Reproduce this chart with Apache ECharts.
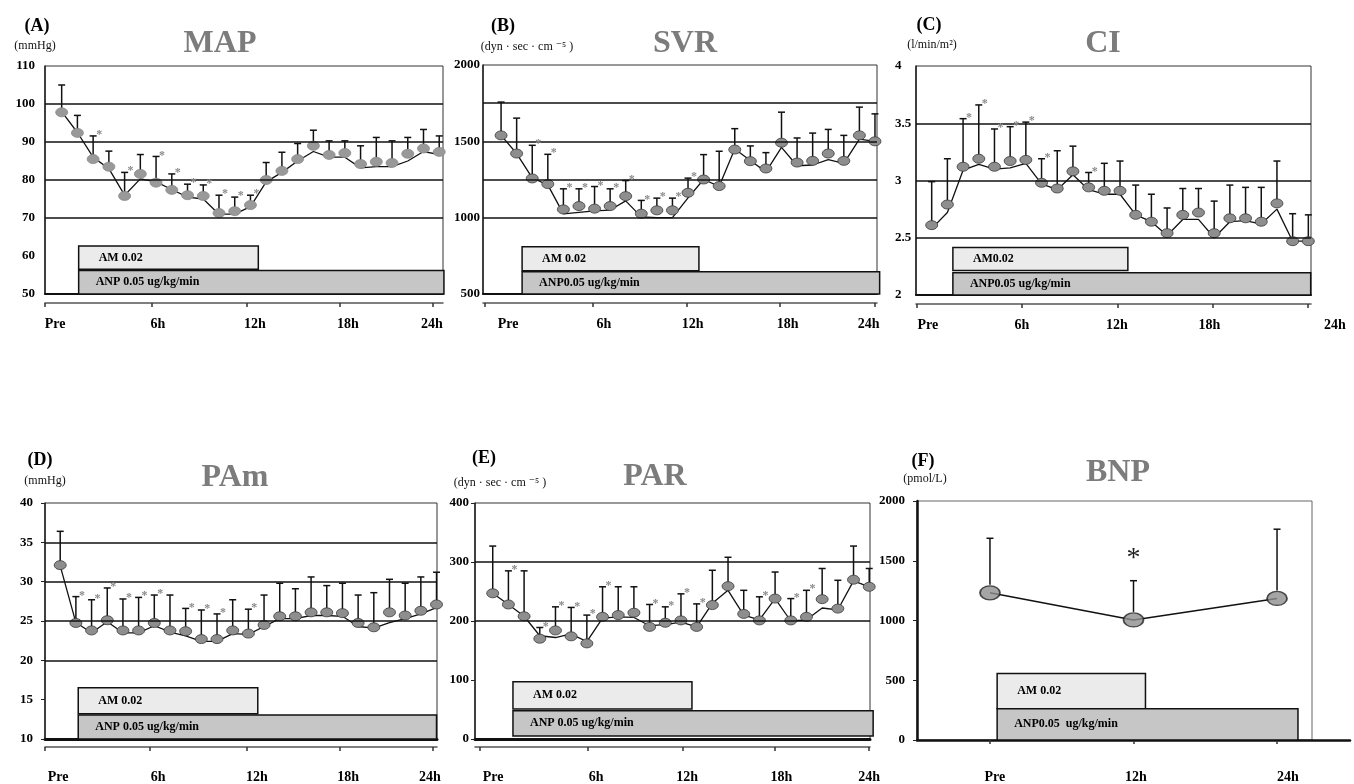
<!DOCTYPE html>
<html>
<head>
<meta charset="utf-8">
<title>AM + ANP hemodynamics</title>
<script src="https://cdn.jsdelivr.net/npm/echarts@6/dist/echarts.min.js"></script>
<style>
html, body { margin: 0; padding: 0; background: #fff; }
#chart { width: 1354px; height: 784px; }
</style>
</head>
<body>
<div id="chart"></div>
<script>
// hourly time points, Pre .. 24h
var hours = [0, 1, 2, 3, 4, 5, 6, 7, 8, 9, 10, 11, 12, 13, 14, 15, 16, 17, 18, 19, 20, 21, 22, 23, 24];
var timeLabels = ['Pre', '6h', '12h', '18h', '24h'];

// (A) MAP
var mapMean = [97.8, 92.4, 85.5, 83.5, 75.8, 81.6, 79.3, 77.4, 76.0, 75.8, 71.3, 71.8, 73.4, 80.0, 82.4, 85.5, 89.0, 86.6, 87.1, 84.2, 84.8, 84.5, 86.9, 88.3, 87.4];
var mapLine = [98, 92.5, 86, 83, 76, 80.3, 79.5, 77.5, 75.5, 75, 71, 71, 73, 79.5, 82, 85, 87.5, 86, 86, 83.2, 83.5, 83.5, 85, 87.5, 86.7];
var mapTop = [105, 97, 91.6, 87.6, 82, 86.7, 86.2, 81.6, 78.9, 78.7, 76, 75.5, 76, 84.6, 87.3, 89.6, 93.1, 90.3, 90.3, 89, 91.2, 90.3, 91.2, 93.3, 91.6];
var mapStars = [2, 4, 6, 7, 8, 9, 10, 11, 12];
var mapGrid = [70, 80, 90, 100];

// (B) SVR
var svrMean = [1539, 1420, 1257, 1220, 1054, 1076, 1059, 1076, 1141, 1026, 1048, 1048, 1163, 1250, 1207, 1446, 1370, 1322, 1491, 1361, 1372, 1420, 1372, 1539, 1500];
var svrLine = [1539, 1420, 1260, 1215, 1025, 1035, 1045, 1050, 1110, 1005, 1000, 1000, 1130, 1250, 1205, 1450, 1375, 1300, 1460, 1340, 1345, 1380, 1355, 1515, 1500];
var svrTop = [1757, 1652, 1474, 1415, 1189, 1189, 1204, 1189, 1243, 1113, 1128, 1128, 1259, 1413, 1435, 1583, 1470, 1426, 1691, 1522, 1554, 1578, 1539, 1724, 1680];
var svrStars = [2, 3, 4, 5, 6, 7, 8, 9, 10, 11, 12];
var svrGrid = [1000, 1250, 1500, 1750];

// (C) CI
var ciMean = [2.61, 2.79, 3.12, 3.19, 3.12, 3.17, 3.18, 2.98, 2.93, 3.08, 2.94, 2.91, 2.91, 2.70, 2.64, 2.54, 2.70, 2.72, 2.54, 2.67, 2.67, 2.64, 2.80, 2.47, 2.47];
var ciLine = [2.58, 2.72, 3.09, 3.14, 3.10, 3.11, 3.15, 2.97, 2.92, 3.05, 2.92, 2.88, 2.88, 2.70, 2.64, 2.52, 2.66, 2.66, 2.50, 2.64, 2.65, 2.62, 2.75, 2.47, 2.47];
var ciTop = [2.99, 3.19, 3.54, 3.66, 3.45, 3.47, 3.51, 3.19, 3.26, 3.30, 3.07, 3.15, 3.17, 2.96, 2.88, 2.76, 2.93, 2.93, 2.82, 2.96, 2.94, 2.94, 3.17, 2.71, 2.70];
var ciStars = [2, 3, 4, 5, 6, 7, 10];
var ciGrid = [2.5, 3, 3.5];

// (D) PAm
var pamMean = [32.1, 24.75, 23.8, 25.1, 23.8, 23.8, 24.75, 23.8, 23.7, 22.7, 22.7, 23.8, 23.4, 24.5, 25.6, 25.6, 26.1, 26.1, 26.0, 24.75, 24.2, 26.1, 25.7, 26.3, 27.1];
var pamLine = [32, 24.8, 23.5, 24.9, 23.5, 23.5, 24.4, 23.6, 23.1, 22.4, 22.4, 23.4, 23.3, 24.3, 25.3, 25.3, 25.7, 25.7, 25.6, 24.3, 24.1, 24.8, 25.3, 25.9, 26.7];
var pamTop = [36.4, 28.1, 27.7, 29.2, 27.8, 28.0, 28.3, 28.3, 26.6, 26.4, 25.9, 27.7, 26.5, 28.3, 29.8, 29.1, 30.6, 29.5, 29.8, 28.3, 28.6, 30.3, 29.8, 30.6, 31.2];
var pamStars = [1, 2, 3, 4, 5, 6, 8, 9, 10, 12];
var pamGrid = [20, 25, 30, 35];

// (E) PAR
var parMean = [247, 228, 208, 170, 184, 174, 162, 207, 210, 214, 190, 197, 201, 190, 227, 259, 212, 201, 238, 201, 207, 237, 221, 270, 258];
var parLine = [247, 228, 208, 175, 172, 178, 165, 205, 207, 206, 192, 194, 198, 190, 230, 252, 210, 202, 238, 200, 202, 222, 219, 268, 258];
var parTop = [327, 285, 285, 189, 224, 223, 210, 258, 258, 258, 228, 224, 246, 229, 286, 308, 252, 241, 283, 238, 252, 289, 269, 327, 289];
var parStars = [1, 3, 4, 5, 6, 7, 10, 11, 12, 13, 17, 19, 20];
var parGrid = [200, 300];

// (F) BNP
var bnpHours = [0, 12, 24];
var bnpLabels = ['Pre', '12h', '24h'];
var bnpMean = [1232, 1005, 1185];
var bnpTop = [1688, 1333, 1764];
var bnpStars = [1];

var FONT = '"Liberation Serif", "DejaVu Serif", serif';

// layout of the five hourly panels
var panels = [
	{ letter: '(A)', unit: '(mmHg)', title: 'MAP', mean: mapMean, line: mapLine, top: mapTop, stars: mapStars, gridVals: mapGrid,
		rect: [45, 66, 398, 228], xr: [-1.06, 24.24], yr: [50, 110, 10], yMargin: 10, yAlign: 'right', yTicks: false, base: 2,
		ticks: [-1.05, 5.74, 11.78, 17.7, 23.6], labelsAt: [-0.42, 6.12, 12.29, 18.2, 23.54], lastShift: 0, offset: 9, labelMargin: 14,
		am: [1.08, 12.5, 56.5, 62.6], anp: [1.08, 24.3, 50, 56.2], amText: 'AM 0.02', anpText: 'ANP 0.05 ug/kg/min',
		dot: ['#999999', '#8a8a8a'],
		letterXY: [37, 26], unitXY: [35, 46], titleXY: [220, 44] },
	{ letter: '(B)', unit: '(dyn · sec · cm ⁻⁵ )', title: 'SVR', mean: svrMean, line: svrLine, top: svrTop, stars: svrStars, gridVals: svrGrid,
		rect: [483, 65, 394, 229], xr: [-1.16, 24.13], yr: [500, 2000, 500], yMargin: 3, yAlign: 'right', yTicks: false, base: 2,
		ticks: [-1.03, 5.9, 11.9, 17.9, 24.0], labelsAt: [0.45, 6.6, 12.3, 18.4, 23.6], lastShift: 0, offset: 9, labelMargin: 14,
		am: [1.35, 12.7, 652, 809], anp: [1.35, 24.3, 500, 645], amText: 'AM 0.02', anpText: 'ANP0.05 ug/kg/min',
		dot: ['#8e8e8e', '#3a3a3a'],
		letterXY: [503, 26], unitXY: [527, 47], titleXY: [685, 44] },
	{ letter: '(C)', unit: '(l/min/m²)', title: 'CI', mean: ciMean, line: ciLine, top: ciTop, stars: ciStars, gridVals: ciGrid,
		rect: [916, 66, 395, 229], xr: [-1.0, 24.17], yr: [2, 4, 0.5], yMargin: 21, yAlign: 'left', yTicks: false, base: 2,
		ticks: [-0.94, 5.75, 11.87, 17.93, 23.99], labelsAt: [-0.24, 5.75, 11.8, 17.7, 24.1], lastShift: 50, offset: 9, labelMargin: 14,
		am: [1.35, 12.5, 2.215, 2.415], anp: [1.35, 24.15, 2.0, 2.195], amText: 'AM0.02', anpText: 'ANP0.05 ug/kg/min',
		dot: ['#8e8e8e', '#3a3a3a'],
		letterXY: [929, 25], unitXY: [932, 45], titleXY: [1103, 44] },
	{ letter: '(D)', unit: '(mmHg)', title: 'PAm', mean: pamMean, line: pamLine, top: pamTop, stars: pamStars, gridVals: pamGrid,
		rect: [45, 503, 392, 236], xr: [-0.97, 24.03], yr: [10, 40, 5], yMargin: 12, yAlign: 'right', yTicks: true, base: 3,
		ticks: [-0.96, 5.74, 11.92, 17.85, 23.77], labelsAt: [-0.13, 6.25, 12.55, 18.36, 23.58], lastShift: 0, offset: 8, labelMargin: 23,
		am: [1.15, 12.6, 13.2, 16.5], anp: [1.15, 24.0, 10, 13.05], amText: 'AM 0.02', anpText: 'ANP 0.05 ug/kg/min',
		dot: ['#8e8e8e', '#3a3a3a'],
		letterXY: [40, 460], unitXY: [45, 481], titleXY: [235, 478] },
	{ letter: '(E)', unit: '(dyn · sec · cm ⁻⁵ )', title: 'PAR', mean: parMean, line: parLine, top: parTop, stars: parStars, gridVals: parGrid,
		rect: [475, 503, 395, 236], xr: [-1.13, 24.05], yr: [0, 400, 100], yMargin: 6, yAlign: 'right', yTicks: true, base: 3,
		ticks: [-0.81, 6.03, 12.1, 18.0, 24.0], labelsAt: [0.02, 6.6, 12.4, 18.4, 24.0], lastShift: 0, offset: 8, labelMargin: 23,
		am: [1.29, 12.7, 51, 97], anp: [1.29, 24.25, 5, 48], amText: 'AM 0.02', anpText: 'ANP 0.05 ug/kg/min',
		dot: ['#8e8e8e', '#3a3a3a'],
		letterXY: [484, 458], unitXY: [500, 483], titleXY: [655, 477] }
];

function nearestText(v, at, texts) {
	var best = 0;
	for(var i = 1; i < at.length; i++) {
		if(Math.abs(at[i] - v) < Math.abs(at[best] - v)) best = i;
	}
	return texts[best];
}

function plainNum(v) {
	return String(v);
}

//治疗区间框 (AM / ANP)
function boxSeries(p, xi, yi) {
	var boxes = [p.am, p.anp];
	var texts = [p.amText, p.anpText];
	var fills = ['#ebebeb', '#c6c6c6'];
	return {
		type: 'custom', xAxisIndex: xi, yAxisIndex: yi, z: 1, silent: true,
		encode: { x: [0, 1], y: [2, 3] },
		data: boxes,
		renderItem: function(params, api) {
			var b = boxes[params.dataIndex];
			var tl = api.coord([b[0], b[3]]);
			var br = api.coord([b[1], b[2]]);
			return {
				type: 'group',
				children: [{
					type: 'rect',
					shape: { x: tl[0], y: tl[1], width: br[0] - tl[0], height: br[1] - tl[1] },
					style: { fill: fills[params.dataIndex], stroke: '#111', lineWidth: 1.5 }
				}, {
					type: 'text',
					x: tl[0] + (params.dataIndex ? 17 : 20),
					y: (tl[1] + br[1]) / 2,
					style: {
						text: texts[params.dataIndex], font: 'bold 12px ' + FONT, fill: '#000',
						textVerticalAlign: 'middle', verticalAlign: 'middle'
					}
				}]
			};
		}
	};
}

// 误差线: 从点的上沿画到 mean+SD
function errorSeries(xs, mean, top, xi, yi, gap) {
	return {
		type: 'custom', xAxisIndex: xi, yAxisIndex: yi, z: 3, silent: true,
		encode: { x: 0, y: [1, 2] },
		data: mean.map(function(m, i) { return [xs[i], m, top[i]]; }),
		renderItem: function(params, api) {
			var p0 = api.coord([api.value(0), api.value(1)]);
			var p1 = api.coord([api.value(0), api.value(2)]);
			var st = { stroke: '#111', lineWidth: 1.5 };
			return {
				type: 'group',
				children: [
					{ type: 'line', shape: { x1: p0[0], y1: p0[1] - gap, x2: p1[0], y2: p1[1] }, style: st },
					{ type: 'line', shape: { x1: p1[0] - 3.5, y1: p1[1], x2: p1[0] + 3.5, y2: p1[1] }, style: st }
				]
			};
		}
	};
}

function starSeries(xs, top, stars, xi, yi, big) {
	return {
		type: 'custom', xAxisIndex: xi, yAxisIndex: yi, z: 5, silent: true,
		encode: { x: 0, y: 1 },
		data: stars.map(function(i) { return [xs[i], top[i]]; }),
		renderItem: function(params, api) {
			var c = api.coord([api.value(0), api.value(1)]);
			return {
				type: 'text',
				x: big ? c[0] : c[0] + 6,
				y: big ? c[1] - 22 : c[1] - 1,
				style: {
					text: '*',
					font: big ? '28px ' + FONT : 'bold 12px ' + FONT,
					fill: big ? '#222' : '#8a8a8a',
					textAlign: 'center', align: 'center',
					textVerticalAlign: 'middle', verticalAlign: 'middle'
				}
			};
		}
	};
}

var grids = [], xAxes = [], yAxes = [], series = [], texts = [];

function addText(str, xy, font, color) {
	texts.push({
		type: 'text', x: xy[0], y: xy[1], silent: true,
		style: {
			text: str, font: font, fill: color,
			textAlign: 'center', align: 'center', textVerticalAlign: 'middle', verticalAlign: 'middle'
		}
	});
}

panels.forEach(function(p, k) {
	grids.push({
		left: p.rect[0], top: p.rect[1], width: p.rect[2], height: p.rect[3],
		show: true, borderColor: '#333', borderWidth: 1, containLabel: false
	});
	// plot x axis (hidden scale, just the baseline)
	xAxes.push({
		gridIndex: k, type: 'value', position: 'bottom', min: p.xr[0], max: p.xr[1],
		axisLine: { show: true, onZero: false, lineStyle: { color: '#111', width: p.base } },
		axisTick: { show: false }, axisLabel: { show: false }, splitLine: { show: false }
	});
	// separate time axis below the plot
	xAxes.push({
		gridIndex: k, type: 'value', position: 'bottom', offset: p.offset, min: p.xr[0], max: p.xr[1],
		axisLine: { show: true, onZero: false, lineStyle: { color: '#555', width: 1.5 } },
		axisTick: { show: true, customValues: p.ticks, length: 4, lineStyle: { color: '#333', width: 1.5 } },
		axisLabel: {
			show: true, customValues: p.labelsAt, margin: p.labelMargin,
			fontFamily: FONT, fontWeight: 'bold', fontSize: 14, color: '#000',
			formatter: (function(pp) {
				return function(v) {
					var t = nearestText(v, pp.labelsAt, timeLabels);
					if(pp.lastShift && t === '24h') return '{s|' + t + '}';
					return t;
				};
			})(p),
			rich: { s: { fontFamily: FONT, fontWeight: 'bold', fontSize: 14, color: '#000', padding: [0, 0, 0, p.lastShift] } }
		},
		splitLine: { show: false }
	});
	yAxes.push({
		gridIndex: k, type: 'value', position: 'left', min: p.yr[0], max: p.yr[1], interval: p.yr[2],
		axisLine: { show: true, onZero: false, lineStyle: { color: '#222', width: 1.5 } },
		axisTick: { show: p.yTicks, length: 4, lineStyle: { color: '#222' } },
		axisLabel: {
			margin: p.yMargin, align: p.yAlign, formatter: plainNum,
			fontFamily: FONT, fontWeight: 'bold', fontSize: 13, color: '#000'
		},
		splitLine: { show: false }
	});

	var xi = 2 * k;
	series.push(boxSeries(p, xi, k));
	series.push({
		type: 'line', xAxisIndex: xi, yAxisIndex: k, z: 2, silent: true, clip: false,
		symbol: 'none',
		lineStyle: { color: '#111', width: 1.3 },
		data: p.line.map(function(v, i) { return [hours[i], v]; }),
		markLine: {
			silent: true, symbol: ['none', 'none'], label: { show: false },
			lineStyle: { color: '#111', width: 1.5, type: 'solid' },
			data: p.gridVals.map(function(v) { return { yAxis: v }; })
		}
	});
	series.push(errorSeries(hours, p.mean, p.top, xi, k, 4));
	series.push({
		type: 'scatter', xAxisIndex: xi, yAxisIndex: k, z: 4, silent: true, clip: false,
		symbol: 'circle', symbolSize: [12, 9],
		itemStyle: { color: p.dot[0], borderColor: p.dot[1], borderWidth: 0.8, opacity: 1 },
		data: p.mean.map(function(v, i) { return [hours[i], v]; })
	});
	series.push(starSeries(hours, p.top, p.stars, xi, k, false));

	addText(p.letter, p.letterXY, 'bold 18px ' + FONT, '#000');
	addText(p.unit, p.unitXY, '12px ' + FONT, '#111');
	addText(p.title, p.titleXY, 'bold 32px ' + FONT, '#7c7c7c');
});

// (F) BNP : data grid (wide so the x axis line runs on) + framed plot
grids.push({ left: 917, top: 501, width: 433, height: 239, show: false });
grids.push({ left: 917, top: 501, width: 395, height: 239, show: true, borderColor: '#666', borderWidth: 1 });
xAxes.push({
	gridIndex: 5, type: 'value', position: 'bottom', min: -6.1, max: 30.1,
	axisLine: { show: true, onZero: false, lineStyle: { color: '#111', width: 2.5 } },
	axisTick: { show: true, customValues: bnpHours, length: 4, lineStyle: { color: '#333', width: 1.5 } },
	axisLabel: {
		show: true, customValues: [0.4, 12.2, 24.9], margin: 30,
		fontFamily: FONT, fontWeight: 'bold', fontSize: 14, color: '#000',
		formatter: function(v) { return nearestText(v, [0.4, 12.2, 24.9], bnpLabels); }
	},
	splitLine: { show: false }
});
xAxes.push({ gridIndex: 6, type: 'value', min: 0, max: 1, show: false });
yAxes.push({
	gridIndex: 5, type: 'value', position: 'left', min: 0, max: 2000, interval: 500,
	axisLine: { show: true, onZero: false, lineStyle: { color: '#111', width: 2.5 } },
	axisTick: { show: true, length: 4, lineStyle: { color: '#222' } },
	axisLabel: { margin: 12, formatter: plainNum, fontFamily: FONT, fontWeight: 'bold', fontSize: 13, color: '#000' },
	splitLine: { show: false }
});
yAxes.push({ gridIndex: 6, type: 'value', min: 0, max: 1, show: false });

series.push(boxSeries({
	am: [0.6, 13.0, 262, 557], anp: [0.6, 25.75, 0, 262],
	amText: 'AM 0.02', anpText: 'ANP0.05  ug/kg/min'
}, 10, 5));
series.push({
	type: 'line', xAxisIndex: 10, yAxisIndex: 5, z: 2, silent: true, symbol: 'none',
	lineStyle: { color: '#111', width: 1.5 },
	data: bnpMean.map(function(v, i) { return [bnpHours[i], v]; })
});
series.push(errorSeries(bnpHours, bnpMean, bnpTop, 10, 5, 8));
series.push({
	type: 'scatter', xAxisIndex: 10, yAxisIndex: 5, z: 4, silent: true,
	symbol: 'circle', symbolSize: [20, 14],
	itemStyle: { color: '#8e8e8e', borderColor: '#222', borderWidth: 1.5 },
	data: bnpMean.map(function(v, i) { return [bnpHours[i], v]; })
});
series.push(starSeries(bnpHours, bnpTop, bnpStars, 10, 5, true));
addText('(F)', [923, 461], 'bold 18px ' + FONT, '#000');
addText('(pmol/L)', [925, 479], '12px ' + FONT, '#111');
addText('BNP', [1118, 473], 'bold 32px ' + FONT, '#7c7c7c');

var myChart = echarts.init(document.getElementById('chart'));
myChart.setOption({
	animation: false,
	backgroundColor: '#fff',
	textStyle: { fontFamily: FONT },
	grid: grids,
	xAxis: xAxes,
	yAxis: yAxes,
	series: series,
	graphic: { elements: texts }
});
</script>
</body>
</html>
